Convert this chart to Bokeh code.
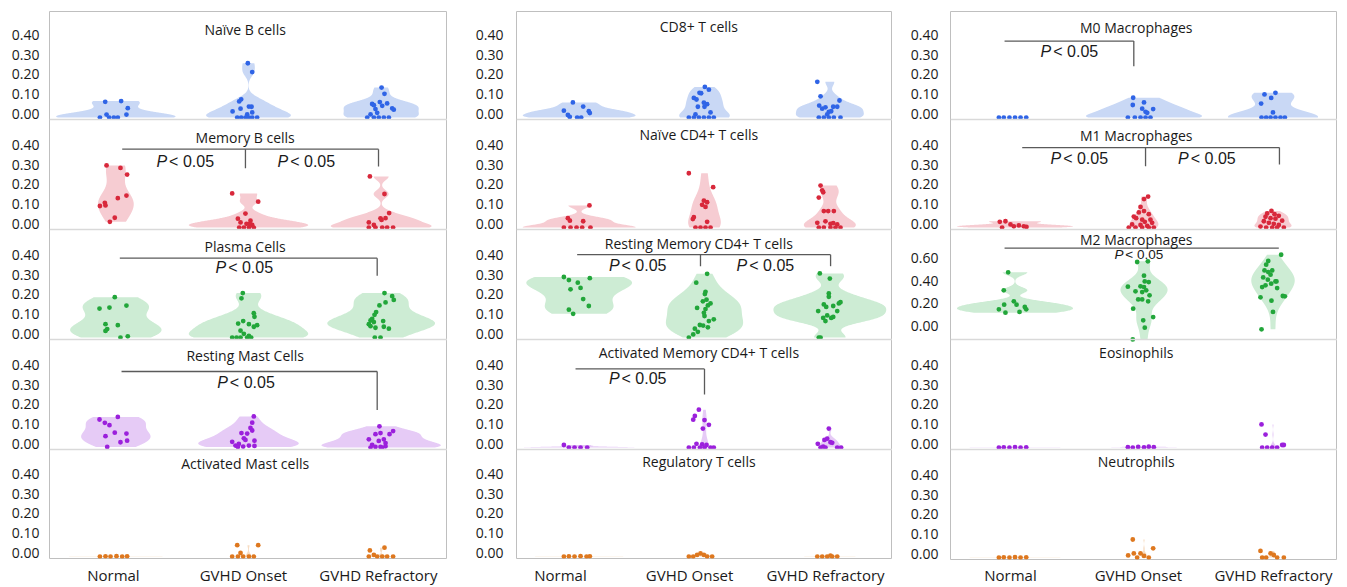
import numpy as np
from bokeh.plotting import figure
from bokeh.layouts import row
from bokeh.models import FixedTicker, Range1d, Label, Span
from bokeh.embed import file_html
from bokeh.resources import INLINE

groups = ["Normal", "GVHD Onset", "GVHD Refractory"]

# ---------------- values (fraction) per group: Normal, GVHD Onset, GVHD Refractory ----------------
naive_b = [
    [0.080, 0.084, 0.048, 0.015, 0.015, 0, 0, 0, 0],
    [0.277, 0.232, 0.093, 0.082, 0.056, 0.055, 0.045, 0.031, 0.026, 0.016, 0, 0, 0, 0, 0, 0],
    [0.153, 0.121, 0.079, 0.069, 0.063, 0.060, 0.072, 0.047, 0.040, 0.043, 0.016, 0.024, 0, 0, 0, 0, 0],
]
memory_b = [
    [0.317, 0.304, 0.270, 0.163, 0.150, 0.126, 0.113, 0.110, 0.050, 0.029],
    [0.174, 0.132, 0.071, 0.045, 0.035, 0.026, 0.019, 0.013, 0.018, 0, 0, 0, 0],
    [0.261, 0.171, 0.074, 0.047, 0.048, 0.039, 0.026, 0.013, 0, 0, 0, 0, 0],
]
plasma = [
    [0.206, 0.148, 0.153, 0.163, 0.068, 0.063, 0.043, 0.034, 0.006, 0],
    [0.227, 0.200, 0.124, 0.106, 0.071, 0.084, 0.068, 0.055, 0.063, 0.035, 0.019, 0.008, 0, 0, 0, 0, 0],
    [0.227, 0.211, 0.192, 0.179, 0.164, 0.130, 0.116, 0.095, 0.087, 0.079, 0.084, 0.068, 0.058, 0.050, 0.055, 0.045, 0, 0],
]
resting_mast = [
    [0.143, 0.156, 0.126, 0.114, 0.058, 0.076, 0.071, 0.027, 0.035, 0.003],
    [0.159, 0.127, 0.100, 0.087, 0.074, 0.071, 0.047, 0.035, 0.029, 0.039, 0.018, 0.010, 0.010, 0.005, 0.003, 0.008],
    [0.108, 0.084, 0.068, 0.074, 0.068, 0.042, 0.034, 0.042, 0.014, 0.023, 0.003, 0.003, 0, 0, 0.006],
]
activated_mast = [
    [0, 0.001, 0, 0.002, 0, 0.001],
    [0.058, 0.058, 0.018, 0, 0, 0, 0, 0],
    [0.031, 0.045, 0.008, 0, 0, 0, 0, 0],
]
cd8 = [
    [0.077, 0.056, 0.035, 0.032, 0.023, 0.013, 0.003, 0, 0],
    [0.156, 0.142, 0.126, 0.124, 0.100, 0.092, 0.076, 0.068, 0.055, 0.055, 0.026, 0.016, 0, 0, 0, 0, 0, 0],
    [0.182, 0.108, 0.087, 0.061, 0.045, 0.052, 0.055, 0.055, 0.029, 0.032, 0.016, 0, 0, 0, 0, 0],
]
naive_cd4 = [
    [0.113, 0.048, 0.035, 0.032, 0, 0, 0, 0, 0],
    [0.277, 0.206, 0.137, 0.129, 0.116, 0.105, 0.053, 0.043, 0.029, 0, 0, 0, 0],
    [0.214, 0.190, 0.180, 0.153, 0.084, 0.084, 0.084, 0.024, 0.032, 0.019, 0.023, 0.016, 0, 0, 0, 0, 0],
]
rest_mem_cd4 = [
    [0.309, 0.293, 0.280, 0.303, 0.246, 0.253, 0.196, 0.161, 0.142, 0.121],
    [0.325, 0.280, 0.233, 0.222, 0.193, 0.185, 0.174, 0.164, 0.151, 0.145, 0.126, 0.110, 0.093, 0.084,
     0.064, 0.061, 0.045, 0.052, 0.029, 0.016, 0],
    [0.327, 0.301, 0.225, 0.208, 0.169, 0.156, 0.161, 0.180, 0.174, 0.135, 0.135, 0.113, 0.100, 0.105,
     0.100, 0.084, 0, 0],
]
act_mem_cd4 = [
    [0.013, 0, 0, 0, 0],
    [0.193, 0.161, 0.142, 0.140, 0.116, 0.097, 0.019, 0.016, 0.013, 0, 0, 0, 0, 0, 0],
    [0.097, 0.045, 0.039, 0.027, 0.019, 0.024, 0, 0, 0, 0, 0.005],
]
reg_t = [
    [0, 0.001, 0, 0.002, 0, 0.001],
    [0.016, 0.008, 0.008, 0, 0, 0, 0],
    [0, 0, 0, 0, 0, 0.005],
]
m0 = [
    [0, 0, 0, 0, 0, 0],
    [0.101, 0.077, 0.064, 0.045, 0.043, 0.029, 0.024, 0, 0, 0, 0, 0],
    [0.118, 0.126, 0.100, 0.071, 0.026, 0, 0, 0, 0, 0, 0],
]
m1 = [
    [0.029, 0.032, 0.016, 0.006, 0.011, 0.006, 0.003, 0],
    [0.158, 0.145, 0.105, 0.084, 0.077, 0.068, 0.056, 0.048, 0.040, 0.040, 0.029, 0.024, 0.016, 0.013,
     0.008, 0, 0, 0, 0, 0],
    [0.085, 0.072, 0.068, 0.060, 0.055, 0.048, 0.045, 0.032, 0.035, 0.024, 0.019, 0.013, 0.005, 0, 0, 0, 0],
]
m2 = [
    [0.518, 0.359, 0.262, 0.232, 0.232, 0.191, 0.212, 0.191, 0.162, 0.168],
    [0.609, 0.615, 0.488, 0.391, 0.394, 0.350, 0.388, 0.359, 0.432, 0.438, 0.344, 0.315, 0.279, 0.279,
     0.262, 0.197, 0.094, 0.123, 0.029, -0.074],
    [0.585, 0.673, 0.618, 0.535, 0.520, 0.535, 0.497, 0.473, 0.453, 0.438, 0.418, 0.403, 0.388, 0.379,
     0.438, 0.309, 0.306, 0.297, 0.268, 0.168, 0.015],
]
eosinophils = [
    [0, 0.001, 0, 0.002, 0, 0.001],
    [0.002, 0, 0.003, 0.001, 0.004, 0.002],
    [0.118, 0.066, 0, 0, 0, 0, 0.013, 0.013],
]
neutrophils = [
    [0, 0.001, 0, 0.002, 0, 0.001],
    [0.092, 0.047, 0.021, 0.021, 0.011, 0.008, 0, 0],
    [0.034, 0.021, 0.013, 0, 0, 0, 0],
]

# ---------------- horizontal jitter of each point (category units) ----------------
naive_b_jit = [
    [-0.08, 0.04, 0.09, -0.07, 0.08, -0.12, -0.05, -0.015, 0.015],
    [-0.005, 0.028, -0.055, -0.07, 0.003, 0.023, -0.06, -0.12, 0.028, -0.01, -0.085, -0.055, -0.023, 0.003, 0.028, 0.065],
    [0.003, 0.025, -0.01, -0.068, -0.055, 0.008, 0.045, 0.083, 0.095, -0.043, -0.08, -0.03, -0.105, -0.055, -0.018, 0.02, 0.058],
]
memory_b_jit = [
    [-0.07, 0.035, 0.085, 0.08, 0.015, -0.083, -0.078, -0.12, -0.008, -0.045],
    [-0.123, 0.073, -0.023, -0.08, 0.015, -0.06, -0.015, 0.028, 0.01, -0.07, -0.035, 0.003, 0.04],
    [-0.085, 0.025, 0.06, -0.005, 0.033, 0.003, -0.093, -0.055, -0.093, -0.043, 0.008, 0.045, 0.09],
]
plasma_jit = [
    [-0.008, -0.123, -0.048, 0.08, -0.078, 0.015, -0.065, -0.078, 0.09, 0.035],
    [-0.043, -0.053, 0.04, 0.045, -0.078, -0.04, 0.003, 0.04, 0.065, -0.06, -0.035, 0.003, -0.123, -0.09, -0.06, -0.01, 0.02],
    [0.025, 0.083, 0.095, 0.033, -0.013, -0.038, -0.05, -0.068, -0.08, -0.055, 0.015, -0.093, -0.08, -0.043, 0.02, 0.058, -0.048, -0.005],
]
resting_mast_jit = [
    [-0.123, 0.015, -0.083, -0.048, -0.078, -0.008, 0.08, 0.035, 0.085, -0.065],
    [0.04, 0.028, 0.015, 0.028, -0.053, -0.01, -0.035, 0.045, -0.123, -0.023, -0.073, -0.098, 0.003, -0.04, -0.08, 0.045],
    [-0.013, 0.09, 0.063, -0.005, -0.043, -0.093, -0.018, 0.02, -0.068, 0.033, -0.043, -0.005, -0.08, 0.008, 0.033],
]
activated_mast_jit = [
    [-0.12, -0.078, -0.04, 0.005, 0.048, 0.085],
    [-0.085, 0.073, -0.06, -0.123, -0.08, -0.04, 0.003, 0.04],
    [-0.085, 0.025, -0.055, -0.093, -0.03, 0.008, 0.045, 0.09],
]
cd8_jit = [
    [-0.05, 0.032, -0.122, 0.077, 0.085, -0.09, -0.075, -0.016, 0.016],
    [0.003, 0.035, -0.04, -0.027, -0.085, -0.064, -0.005, 0.021, 0, -0.053, 0.048, -0.072, -0.125, -0.085, -0.045, -0.005, 0.035, 0.074],
    [-0.1, -0.074, 0.077, -0.085, -0.061, -0.035, 0.027, 0.059, -0.008, 0.011, -0.021, -0.088, -0.048, -0.008, 0.032, 0.085],
]
naive_cd4_jit = [
    [0.082, -0.09, -0.074, 0.032, -0.122, -0.069, -0.021, 0.024, 0.09],
    [-0.125, 0.069, -0.005, 0.021, -0.019, 0.008, -0.085, -0.093, 0.021, -0.072, -0.032, 0.008, 0.048],
    [-0.074, -0.061, -0.053, -0.088, -0.048, 0.032, -0.013, -0.1, -0.035, 0.005, 0.027, 0.059, -0.088, -0.048, 0.005, 0.045, 0.085],
]
rest_mem_cd4_jit = [
    [-0.122, -0.082, -0.011, 0.085, -0.069, 0.011, 0.032, 0.077, -0.082, -0.048],
    [0.021, -0.066, 0.008, 0.003, 0.016, -0.013, 0.048, 0.027, -0.059, 0.008, -0.005, 0, 0.074, 0.035,
     -0.037, -0.011, -0.077, 0.027, -0.053, -0.09, -0.125],
    [-0.08, 0, -0.008, -0.008, -0.048, -0.029, 0.027, 0.085, 0.072, 0.059, -0.093, -0.021, -0.053, 0.027,
     0.011, -0.035, -0.074, -0.088],
]
act_mem_cd4_jit = [
    [-0.122, -0.082, -0.037, 0.011, 0.064],
    [-0.045, -0.077, -0.09, 0, 0.035, -0.013, -0.064, -0.019, 0.016, -0.125, -0.085, -0.037, 0, 0.048, 0.074],
    [-0.008, -0.021, -0.043, 0.005, -0.096, 0.019, -0.074, -0.035, 0.059, 0.09, -0.053],
]
reg_t_jit = [
    [-0.122, -0.082, -0.037, 0.011, 0.059, 0.085],
    [-0.032, -0.059, -0.005, -0.125, -0.09, 0.021, 0.061],
    [-0.1, -0.061, -0.021, 0.019, 0.059, 0.005],
]
m0_jit = [
    [-0.125, -0.087, -0.043, 0, 0.043, 0.087],
    [-0.084, 0, -0.087, -0.014, 0.071, 0.012, 0.025, -0.125, -0.071, -0.027, 0.012, 0.05],
    [-0.066, 0.019, -0.014, -0.092, 0, -0.089, -0.053, -0.019, 0.019, 0.058, 0.092],
]
m1_jit = [
    [-0.118, -0.074, -0.035, -0.009, 0.03, 0.068, 0.089, -0.1],
    [0.032, 0, -0.027, 0, -0.04, 0.037, -0.079, -0.061, -0.014, 0.05, 0.006, 0.063, -0.092, -0.027, 0.025,
     -0.118, -0.066, -0.014, 0.037, 0.076],
    [-0.012, -0.045, 0.012, 0.045, -0.058, -0.019, 0.019, -0.071, 0.071, -0.032, 0.006, 0.045, -0.097,
     -0.053, -0.006, 0.032, 0.084],
]
m2_jit = [
    [-0.053, -0.087, -0.009, 0.012, -0.084, -0.125, 0.076, 0.087, -0.074, 0.035],
    [-0.053, 0.03, 0, -0.125, -0.027, -0.066, 0, 0.017, 0.037, 0.006, -0.014, 0.043, -0.045, -0.014, 0.032,
     -0.084, -0.006, 0.071, 0.006, -0.087],
    [-0.053, 0.063, -0.037, -0.066, -0.037, -0.006, -0.019, -0.076, -0.04, 0.019, -0.014, -0.058, -0.084,
     0.032, 0.027, 0.076, 0.092, -0.097, -0.012, 0, -0.089],
]
eosinophils_jit = [
    [-0.125, -0.087, -0.043, 0, 0.043, 0.087],
    [-0.125, -0.087, -0.045, 0, 0.037, 0.076],
    [-0.089, -0.058, -0.084, -0.045, -0.006, 0.032, 0.071, 0.084],
]
neutrophils_jit = [
    [-0.125, -0.087, -0.043, 0, 0.043, 0.087],
    [-0.087, 0.071, -0.079, -0.027, -0.123, 0, -0.053, 0.037],
    [-0.097, -0.019, 0.006, -0.084, -0.053, 0.032, 0.084],
]

# ---------------- significance brackets: (line y, x-from, x-to), drops (x, y-bottom), label centres ----------------
BR_MEMORY_B = dict(h=(0.40, 1.048, 2.98), drops=[(1.977, 0.303), (2.98, 0.311)], texts=[(1.507, 0.337), (2.42, 0.337)])
BR_PLASMA = dict(h=(0.405, 1.03, 2.97), drops=[(2.97, 0.315)], texts=[(1.952, 0.359)])
BR_REST_MAST = dict(h=(0.388, 1.043, 2.97), drops=[(2.97, 0.192)], texts=[(1.965, 0.333)])
BR_REST_MEM = dict(h=(0.423, 0.984, 3.006), drops=[(1.968, 0.364), (3.006, 0.364)], texts=[(1.45, 0.369), (2.469, 0.369)])
BR_ACT_MEM = dict(h=(0.401, 0.971, 2.0), drops=[(2.0, 0.27)], texts=[(1.45, 0.352)])
BR_M0 = dict(h=(0.39, 0.919, 1.921), drops=[(1.921, 0.262)], texts=[(1.405, 0.338)])
BR_M1 = dict(h=(0.408, 1.056, 3.05), drops=[(2.012, 0.313), (3.05, 0.321)], texts=[(1.482, 0.35), (2.471, 0.35)])
BR_M2 = dict(h=(0.732, 0.919, 3.045), drops=[], texts=[(1.947, 0.673)], small=True)

COLUMNS = [
    dict(fw=398, mbl=49, mbt=10, heights=[108, 110, 110, 110, 109], standoff=10, xstand=6, title_x=1.975,
         label_ticks=[0.982, 1.962, 2.979], title_off=[18, 18, 17, 16, 14],
         panels=[("Naïve B cells", naive_b, naive_b_jit, None),
                 ("Memory B cells", memory_b, memory_b_jit, BR_MEMORY_B),
                 ("Plasma Cells", plasma, plasma_jit, BR_PLASMA),
                 ("Resting Mast Cells", resting_mast, resting_mast_jit, BR_REST_MAST),
                 ("Activated Mast cells", activated_mast, activated_mast_jit, None)]),
    dict(fw=376, mbl=69, mbt=11, heights=[108, 110, 110, 110, 109], standoff=13, xstand=6, title_x=1.955,
         label_ticks=[0.851, 1.881, 2.966], title_off=[15, 15, 14, 13, 12],
         panels=[("CD8+ T cells", cd8, cd8_jit, None),
                 ("Naïve CD4+ T cells", naive_cd4, naive_cd4_jit, None),
                 ("Resting Memory CD4+ T cells", rest_mem_cd4, rest_mem_cd4_jit, BR_REST_MEM),
                 ("Activated Memory CD4+ T cells", act_mem_cd4, act_mem_cd4_jit, BR_ACT_MEM),
                 ("Regulatory T cells", reg_t, reg_t_jit, None)]),
    dict(fw=387, mbl=58, mbt=11, heights=[108, 110, 110, 110, 110], standoff=12, xstand=5, title_x=1.94,
         label_ticks=[0.965, 1.957, 3.004], title_off=[16, 16, 10, 13, 12],
         panels=[("M0 Macrophages", m0, m0_jit, BR_M0),
                 ("M1 Macrophages", m1, m1_jit, BR_M1),
                 ("M2 Macrophages", m2, m2_jit, BR_M2),
                 ("Eosinophils", eosinophils, eosinophils_jit, None),
                 ("Neutrophils", neutrophils, neutrophils_jit, None)]),
]

ROW_COLORS = [("#2f64e6", "#c9d8f5"), ("#d8283b", "#f6ccd2"), ("#22a63a", "#cdecd4"),
              ("#9b20dc", "#e6cbf6"), ("#de781f", "#f7ddc4")]

FONT = "Open Sans"
PFONT = "Liberation Sans"
FRAME_COL = "#bfbfbf"
SEP_COL = "#d9d9d9"
TEXT_COL = "#1a1a1a"


def kde_profile(vals, n=200):
    v = np.asarray(vals, dtype=float)
    if len(v) < 2 or np.ptp(v) == 0:
        return None
    sd = v.std(ddof=1)
    q75, q25 = np.percentile(v, [75, 25])
    lo = min(sd, (q75 - q25) / 1.34)
    if lo <= 0:
        lo = sd
    bw = 0.9 * lo * len(v) ** -0.2
    ys = np.linspace(v.min(), v.max(), n)
    dens = np.exp(-0.5 * ((ys[:, None] - v[None, :]) / bw) ** 2).sum(axis=1) / (len(v) * bw * np.sqrt(2 * np.pi))
    return ys, dens


def make_column(cfg):
    heights = cfg["heights"]
    H = sum(heights)
    p = figure(frame_width=cfg["fw"], frame_height=H, x_range=Range1d(0.5, 3.5),
               y_range=Range1d(0, H), output_backend="svg", toolbar_location=None,
               title=None, min_border_left=cfg["mbl"], min_border_right=0,
               min_border_top=cfg["mbt"], min_border_bottom=24)
    p.grid.visible = False
    p.outline_line_color = FRAME_COL
    p.background_fill_color = "white"
    p.border_fill_color = "white"

    extra = {}
    tick_pos, tick_txt = [], {}
    b = H
    for ri, (title, vals, jit, br) in enumerate(cfg["panels"]):
        h = heights[ri]
        b -= h                       # bottom of this panel band (frame px from bottom)
        is_m2 = br is not None and br.get("small", False)
        k = 113.3 if is_m2 else 196.0      # px per unit
        s = -0.075 if is_m2 else -0.01     # value at panel bottom
        name = "panel%d" % ri
        extra[name] = Range1d(s - b / k, s + (H - b) / k)

        # tick labels of this panel (drawn on the shared left axis)
        shift = 5 if is_m2 else 4
        for v in ([0, 0.2, 0.4, 0.6] if is_m2 else [0, 0.1, 0.2, 0.3, 0.4]):
            pos = round(b + (v - s) * k + shift, 3)
            tick_pos.append(pos)
            tick_txt[pos] = "%.2f" % v

        pt_col, fill_col = ROW_COLORS[ri]

        # violins (gaussian kde, trimmed to data range, area-scaled within the panel)
        profs = [kde_profile(g) for g in vals]
        dmax = max(pr[1].max() for pr in profs if pr is not None)
        xs_list, ys_list = [], []
        for gi, pr in enumerate(profs):
            if pr is None:
                continue
            ys, d = pr
            half = 0.45 * d / dmax
            c = gi + 1
            xs_list.append(np.concatenate([c - half, (c + half)[::-1]]))
            ys_list.append(np.concatenate([ys, ys[::-1]]))
        if xs_list:
            p.patches(xs_list, ys_list, fill_color=fill_col, line_color=None, y_range_name=name)

        # jittered points
        px, py = [], []
        for gi, (g, j) in enumerate(zip(vals, jit)):
            px += [gi + 1 + o for o in j]
            py += list(g)
        p.scatter(px, py, size=4.8, fill_color=pt_col, line_color=None, y_range_name=name)

        # significance brackets
        if br is not None:
            y, x0, x1 = br["h"]
            sx0 = [x0] + [d[0] for d in br["drops"]]
            sy0 = [y] + [y for d in br["drops"]]
            sx1 = [x1] + [d[0] for d in br["drops"]]
            sy1 = [y] + [d[1] for d in br["drops"]]
            p.segment(sx0, sy0, sx1, sy1, line_color="#5a5a5a", line_width=1.3, y_range_name=name)
            fs = "13.5px" if is_m2 else "16px"
            kk = 0.85 if is_m2 else 1.0
            for tx, ty in br["texts"]:
                p.add_layout(Label(x=tx, y=ty, y_range_name=name, text="P", text_font=PFONT,
                                   text_font_style="italic", text_font_size=fs, text_align="right",
                                   text_baseline="middle", x_offset=-16 * kk, text_color=TEXT_COL))
                p.add_layout(Label(x=tx, y=ty, y_range_name=name, text="< 0.05", text_font=PFONT,
                                   text_font_size=fs, text_align="left", text_baseline="middle",
                                   x_offset=-14 * kk, text_color=TEXT_COL))

        # panel title
        p.add_layout(Label(x=cfg["title_x"], y=b + h - cfg["title_off"][ri], text=title,
                           text_font=FONT, text_font_size="14px", text_align="center",
                           text_baseline="middle", text_color=TEXT_COL))
        # separator line at the panel bottom
        if ri < len(heights) - 1:
            p.add_layout(Span(location=b, dimension="width", line_color=SEP_COL, line_width=1.5))

    p.extra_y_ranges = extra

    ya = p.yaxis[0]
    ya.ticker = FixedTicker(ticks=tick_pos)
    ya.major_label_overrides = tick_txt
    ya.axis_line_color = None
    ya.major_tick_line_color = None
    ya.minor_tick_line_color = None
    ya.major_tick_out = 0
    ya.major_tick_in = 0
    ya.minor_tick_out = 0
    ya.minor_tick_in = 0
    ya.major_label_standoff = cfg["standoff"]
    ya.major_label_text_font = FONT
    ya.major_label_text_font_size = "14px"
    ya.major_label_text_color = TEXT_COL

    xa = p.xaxis[0]
    xa.ticker = FixedTicker(ticks=cfg["label_ticks"])
    xa.major_label_overrides = {t: g for t, g in zip(cfg["label_ticks"], groups)}
    xa.axis_line_color = None
    xa.major_tick_line_color = None
    xa.minor_tick_line_color = None
    xa.major_tick_out = 0
    xa.major_tick_in = 0
    xa.minor_tick_out = 0
    xa.minor_tick_in = 0
    xa.major_label_standoff = cfg["xstand"]
    xa.major_label_text_font = FONT
    xa.major_label_text_font_size = "15px"
    xa.major_label_text_color = TEXT_COL
    return p


layout = row(*[make_column(cfg) for cfg in COLUMNS], spacing=0)

html = file_html(layout, INLINE, title="Cell fractions")
with open("out.html", "w") as f:
    f.write(html)
